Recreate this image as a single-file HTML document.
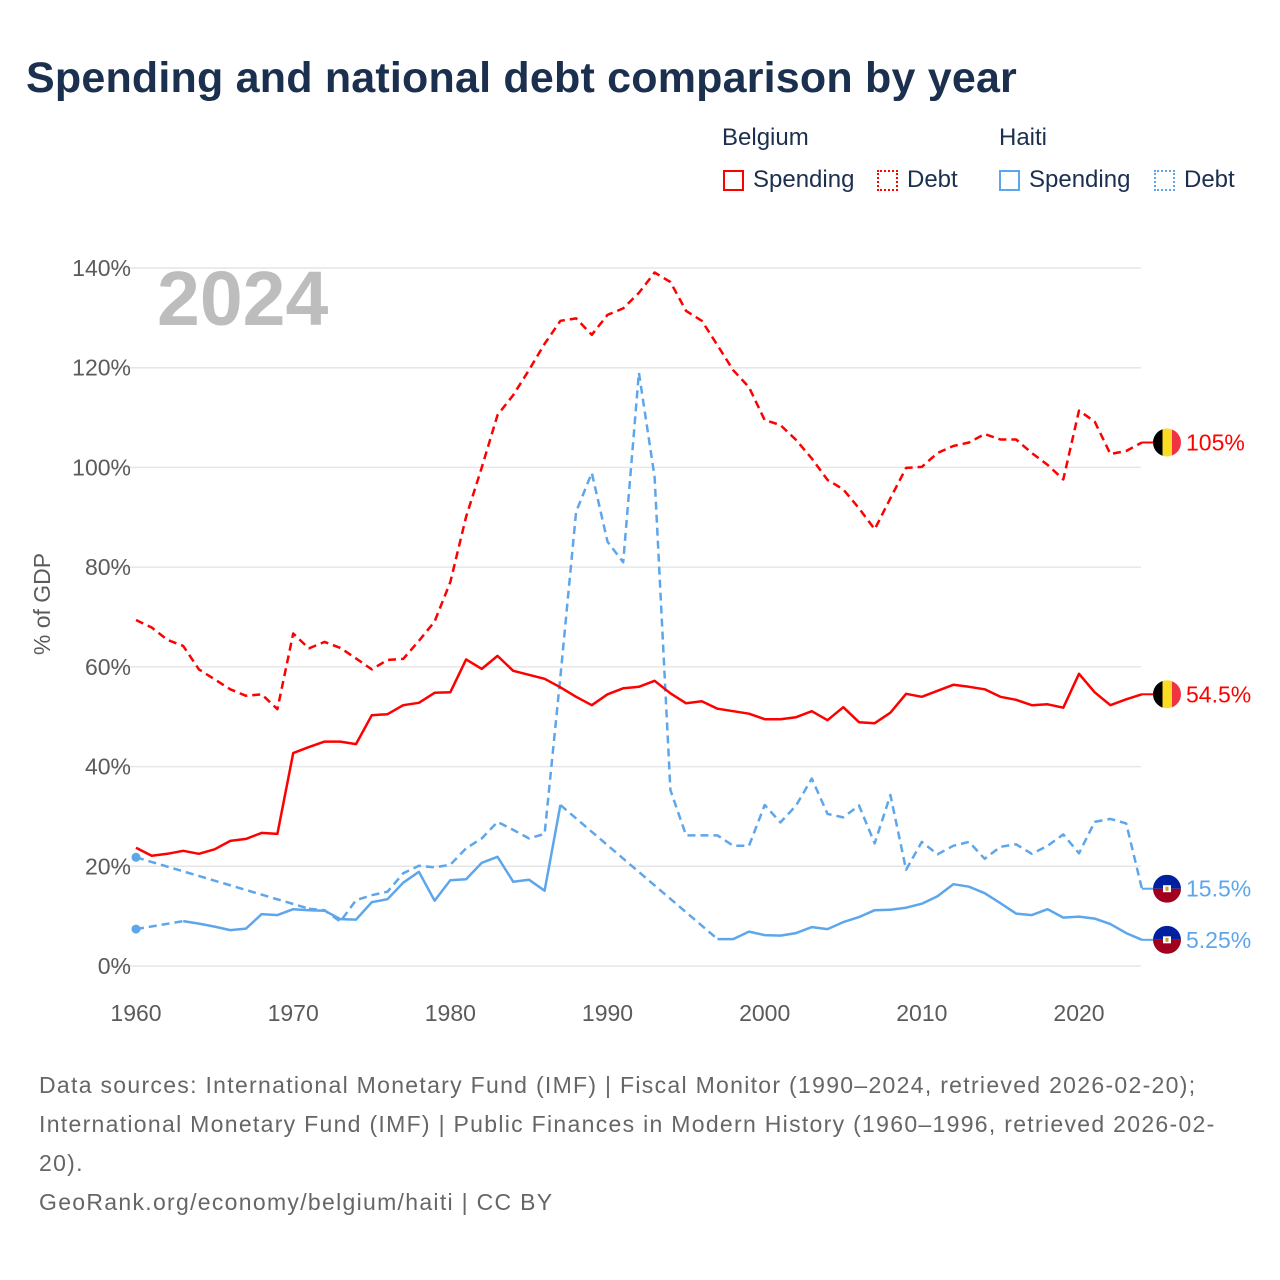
<!DOCTYPE html>
<html><head><meta charset="utf-8"><title>Spending and national debt comparison by year</title>
<style>
html,body{margin:0;padding:0;background:#fff;}
body{width:1280px;height:1280px;position:relative;overflow:hidden;font-family:"Liberation Sans",sans-serif;}
#title{position:absolute;left:26px;top:54px;font-size:43px;font-weight:bold;color:#1b2f4e;letter-spacing:0.2px;margin:0;white-space:nowrap;}
.leg{position:absolute;font-size:24px;color:#1b2f4e;}
.box{position:absolute;width:21px;height:21px;box-sizing:border-box;}
#footer{position:absolute;left:39px;top:1066px;width:1240px;font-size:23px;line-height:39px;color:#666;white-space:nowrap;letter-spacing:1.3px;}
</style></head><body>
<h1 id="title">Spending and national debt comparison by year</h1>

<div class="leg" style="left:722px;top:124px">Belgium</div>
<div class="leg" style="left:999px;top:124px">Haiti</div>
<div>
 <div class="box" style="left:723px;top:170px;border:2px solid #f00"></div>
 <div class="leg" style="left:753px;top:166px">Spending</div></div>
<div>
 <div class="box" style="left:877px;top:170px;border:2px dotted #f00"></div>
 <div class="leg" style="left:907px;top:166px">Debt</div></div>
<div>
 <div class="box" style="left:999px;top:170px;border:2px solid #5ea6ec"></div>
 <div class="leg" style="left:1029px;top:166px">Spending</div></div>
<div>
 <div class="box" style="left:1154px;top:170px;border:2px dotted #5ea6ec"></div>
 <div class="leg" style="left:1184px;top:166px">Debt</div></div>

<svg id="chart" width="1280" height="1280" style="position:absolute;left:0;top:0"></svg>

<div id="footer">Data sources: International Monetary Fund (IMF) | Fiscal Monitor (1990–2024, retrieved 2026-02-20);<br>International Monetary Fund (IMF) | Public Finances in Modern History (1960–1996, retrieved 2026-02-<br>20).<br>GeoRank.org/economy/belgium/haiti | CC BY</div>

<script>
const yTicks = [0,20,40,60,80,100,120,140];
const xTicks = [1960,1970,1980,1990,2000,2010,2020];
const beSpendYears = [1960,1961,1962,1963,1964,1965,1966,1967,1968,1969,1970,1971,1972,1973,1974,1975,1976,1977,1978,1979,1980,1981,1982,1983,1984,1985,1986,1987,1988,1989,1990,1991,1992,1993,1994,1995,1996,1997,1998,1999,2000,2001,2002,2003,2004,2005,2006,2007,2008,2009,2010,2011,2012,2013,2014,2015,2016,2017,2018,2019,2020,2021,2022,2023,2024];
const beSpend = [23.7,22.1,22.5,23.1,22.5,23.4,25.1,25.5,26.7,26.5,42.7,43.9,45.0,45.0,44.5,50.3,50.5,52.3,52.8,54.8,54.9,61.5,59.6,62.2,59.2,58.4,57.6,55.9,54.0,52.3,54.5,55.7,56.0,57.2,54.7,52.7,53.1,51.6,51.1,50.6,49.5,49.5,49.9,51.1,49.3,51.9,48.9,48.7,50.8,54.6,54.0,55.2,56.4,56.0,55.5,54.0,53.4,52.3,52.5,51.8,58.6,54.9,52.3,53.5,54.5];
const beDebt = [69.4,67.9,65.4,64.2,59.5,57.5,55.5,54.2,54.5,51.5,66.7,63.7,65.0,63.8,61.7,59.5,61.4,61.6,65.2,69.1,77.0,90.1,100.0,110.5,114.5,119.5,124.8,129.4,129.9,126.6,130.6,131.9,135.0,139.1,137.2,131.4,129.4,124.5,119.5,116.1,109.5,108.5,105.5,101.8,97.5,95.6,91.8,87.6,93.8,99.9,100.1,102.9,104.3,105.0,106.7,105.6,105.6,102.9,100.5,97.6,111.4,109.2,102.7,103.3,105.0];
const htSpendYears = [1960,1963,1964,1965,1966,1967,1968,1969,1970,1971,1972,1973,1974,1975,1976,1977,1978,1979,1980,1981,1982,1983,1984,1985,1986,1987,1997,1998,1999,2000,2001,2002,2003,2004,2005,2006,2007,2008,2009,2010,2011,2012,2013,2014,2015,2016,2017,2018,2019,2020,2021,2022,2023,2024];
const htSpend = [7.4,9.0,8.5,7.9,7.2,7.5,10.4,10.2,11.4,11.2,11.1,9.4,9.3,12.8,13.4,16.7,18.9,13.1,17.2,17.4,20.7,21.9,16.9,17.3,15.1,32.3,5.4,5.4,6.9,6.2,6.1,6.6,7.8,7.4,8.8,9.8,11.2,11.3,11.7,12.5,14.0,16.4,15.9,14.6,12.6,10.5,10.2,11.4,9.7,9.9,9.5,8.4,6.6,5.25];
const htDebtYears = [1960,1971,1972,1973,1974,1975,1976,1977,1978,1979,1980,1981,1982,1983,1984,1985,1986,1987,1988,1989,1990,1991,1992,1993,1994,1995,1996,1997,1998,1999,2000,2001,2002,2003,2004,2005,2006,2007,2008,2009,2010,2011,2012,2013,2014,2015,2016,2017,2018,2019,2020,2021,2022,2023,2024];
const htDebt = [21.8,11.5,11.2,8.9,13.2,14.2,14.9,18.6,20.1,19.8,20.3,23.6,25.6,28.9,27.3,25.6,26.5,58.0,91.1,98.9,85.1,81.0,119.0,98.1,35.3,26.2,26.2,26.2,24.1,24.1,32.3,28.8,32.2,37.6,30.5,29.8,32.2,24.6,34.3,19.3,24.9,22.4,24.1,24.9,21.5,23.9,24.4,22.5,24.1,26.4,22.6,28.9,29.5,28.6,15.5];
const endLabels = ["105%","54.5%","15.5%","5.25%"];

const NS="http://www.w3.org/2000/svg";
const svg=document.getElementById('chart');
const X0=136, X1=1079, Y0=966, Y1=268;
function xs(yr){return X0+(yr-1960)*(X1-X0)/60;}
function ys(v){return Y0-(v/140)*(Y0-Y1);}
function el(tag,attrs,parent){const e=document.createElementNS(NS,tag);for(const k in attrs)e.setAttribute(k,attrs[k]);(parent||svg).appendChild(e);return e;}

yTicks.forEach(v=>{
  const g=el('line',{x1:108,x2:1141,y1:ys(v),y2:ys(v),stroke:'#e6e6e6','stroke-width':1.5});
  
  
  const t=el('text',{x:131,y:ys(v)+8,'text-anchor':'end','font-size':23,fill:'#5b5b5b','font-family':'Liberation Sans, sans-serif'});
  t.textContent=v+'%';
  
  
});
xTicks.forEach(yr=>{
  const t=el('text',{x:xs(yr),y:1021,'text-anchor':'middle','font-size':23,fill:'#5b5b5b','font-family':'Liberation Sans, sans-serif'});
  t.textContent=yr;
  
  
});
const yt=el('text',{x:0,y:0,transform:'translate(50,604) rotate(-90)','text-anchor':'middle','font-size':23,fill:'#5b5b5b','font-family':'Liberation Sans, sans-serif'});
yt.textContent='% of GDP';


const yr=el('text',{x:157,y:325,'font-size':77,'font-weight':'bold',fill:'#bdbdbd','font-family':'Liberation Sans, sans-serif'});
yr.textContent='2024';



function drawSeries(years,vals,color,dashed,name){
  let segs=[[0]];
  for(let i=1;i<years.length;i++){
    if(years[i]-years[i-1]>1){segs.push([i]);}else segs[segs.length-1].push(i);
  }
  const g=el('g',{});
  
  
  for(let s=0;s<segs.length;s++){
    const seg=segs[s];
    if(seg.length>1){
      const d=seg.map((i,k)=>(k?'L':'M')+xs(years[i]).toFixed(1)+' '+ys(vals[i]).toFixed(1)).join(' ');
      const p=el('path',{d:d,fill:'none',stroke:color,'stroke-width':2.5,'stroke-linejoin':'round','stroke-dasharray':dashed?'8 5':'none'},g);
      
      
    } else {
      const i=seg[0];
      const c=el('circle',{cx:xs(years[i]),cy:ys(vals[i]),r:4.5,fill:color},g);
      
      
    }
    if(s<segs.length-1){
      const a=seg[seg.length-1], b=segs[s+1][0];
      const c=el('line',{x1:xs(years[a]),y1:ys(vals[a]),x2:xs(years[b]),y2:ys(vals[b]),stroke:color,'stroke-width':2.5,'stroke-dasharray':'8 5'},g);
      
      
    }
  }
}
drawSeries(beSpendYears,beDebt,'#ff0000',true,'belgium-debt-series');
drawSeries(htDebtYears,htDebt,'#5ea6ec',true,'haiti-debt-series');
drawSeries(beSpendYears,beSpend,'#ff0000',false,'belgium-spending-series');
drawSeries(htSpendYears,htSpend,'#5ea6ec',false,'haiti-spending-series');

function endMarker(val,label,color,country,name){
  const y=ys(val), x=1167;
  const g=el('g',{});
  
  
  el('line',{x1:xs(2024),x2:x-14,y1:y,y2:y,stroke:color,'stroke-width':2},g);
  const cid='clip'+name;
  const cp=el('clipPath',{id:cid},g);
  el('circle',{cx:x,cy:y,r:14},cp);
  const fg=el('g',{'clip-path':'url(#'+cid+')'},g);
  if(country==='be'){
    el('rect',{x:x-14,y:y-14,width:10,height:28,fill:'#000'},fg);
    el('rect',{x:x-4.5,y:y-14,width:9.5,height:28,fill:'#fdda24'},fg);
    el('rect',{x:x+5,y:y-14,width:10,height:28,fill:'#ef3340'},fg);
  } else {
    el('rect',{x:x-14,y:y-14,width:28,height:14,fill:'#00209f'},fg);
    el('rect',{x:x-14,y:y,width:28,height:14,fill:'#a0001e'},fg);
    el('rect',{x:x-4,y:y-3.5,width:8,height:7,fill:'#fff'},fg);
    el('rect',{x:x-1.5,y:y-2,width:3,height:4,fill:'#c8a030'},fg);
  }
  const t=el('text',{x:1186,y:y+8,'font-size':23,fill:color,'font-family':'Liberation Sans, sans-serif'},g);
  t.textContent=label;
  
  
}
endMarker(beDebt[beDebt.length-1],endLabels[0],'#ff0000','be','end-label-belgium-debt');
endMarker(beSpend[beSpend.length-1],endLabels[1],'#ff0000','be','end-label-belgium-spending');
endMarker(htDebt[htDebt.length-1],endLabels[2],'#5ea6ec','ht','end-label-haiti-debt');
endMarker(htSpend[htSpend.length-1],endLabels[3],'#5ea6ec','ht','end-label-haiti-spending');
</script>
</body></html>
